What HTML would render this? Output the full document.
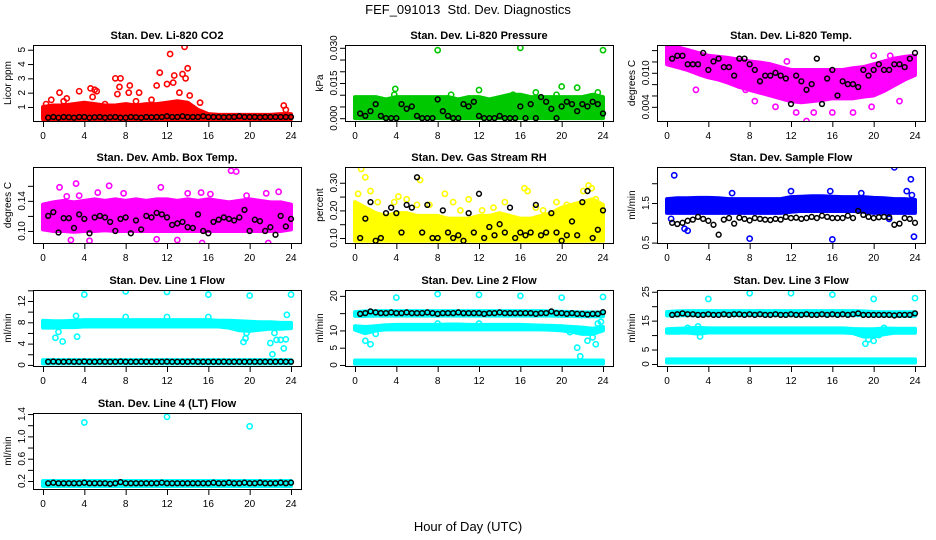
<!DOCTYPE html>
<html><head><meta charset="utf-8"><style>
body{margin:0;background:#fff}
svg{display:block;font-family:"Liberation Sans",sans-serif}
</style></head><body>
<svg id="c" width="936" height="540" viewBox="0 0 936 540">
<rect width="936" height="540" fill="#fff"/>
<text x="468" y="14" text-anchor="middle" font-size="13">FEF_091013&#160; Std. Dev. Diagnostics</text>
<text x="468" y="531" text-anchor="middle" font-size="13">Hour of Day (UTC)</text>
</svg>
<script>
const hours=[0,1,2,3,4,5,6,7,8,9,10,11,12,13,14,15,16,17,18,19,20,21,22,23,24];
const xTicks=[0,4,8,12,16,20,24];

const co2Lo=[0.15,0.15,0.15,0.15,0.15,0.15,0.15,0.15,0.15,0.15,0.15,0.15,0.15,0.15,0.15,0.15,0.15,0.15,0.15,0.15,0.15,0.15,0.15,0.15,0.15];
const co2Hi=[1.0,1.1,1.1,1.2,1.3,1.2,1.1,1.1,1.2,1.1,1.2,1.2,1.3,1.4,1.3,0.8,0.5,0.45,0.45,0.45,0.45,0.45,0.45,0.5,0.5];
const co2OutX=[0.3,0.8,1.6,2.3,3.5,4.6,5.0,5.2,7.0,7.5,7.2,7.4,8.4,9.3,11.0,11.3,12.3,12.0,12.7,12.6,13.5,13.7,13.8,14.0,15.2,23.3,23.5,10.5,9.0,6.0,13.2,14.2,8.3,4.8,2.0];
const co2OutY=[1.2,1.5,2.0,1.6,2.1,2.3,2.2,2.1,3.0,3.0,1.9,2.4,2.5,2.0,2.5,3.4,4.7,2.6,3.2,2.7,3.3,5.2,3.0,3.7,1.3,1.1,0.8,1.5,1.4,1.2,2.0,1.8,2.0,1.7,1.4];
const co2Black=[0.25,0.3,0.25,0.3,0.28,0.25,0.3,0.3,0.25,0.28,0.3,0.25,0.28,0.3,0.25,0.25,0.3,0.28,0.25,0.3,0.28,0.3,0.3,0.35,0.3,0.3,0.35,0.3,0.3,0.3,0.35,0.3,0.3,0.3,0.28,0.3,0.3,0.35,0.3,0.3,0.3,0.28,0.3,0.3,0.3,0.3,0.3,0.3];

const presLo=[0,0,0,0,0,0,0,0,0,0,0,0,0,0,0,0,0,0,0,0,0,0,0,0,0];
const presHi=[0.009,0.009,0.009,0.008,0.009,0.009,0.009,0.009,0.009,0.009,0.008,0.009,0.009,0.008,0.009,0.01,0.01,0.009,0.009,0.009,0.009,0.009,0.009,0.01,0.009];
const presOutX=[8,16,24,3.9,12,20,21.5,23.5,3.8,15.3,17.5,19.5,9.3];
const presOutY=[0.029,0.030,0.029,0.0125,0.012,0.0135,0.013,0.011,0.010,0.010,0.011,0.010,0.010];
const presBlack=[0.002,0.001,0.003,0.006,0.001,0,0,0,0.006,0.004,0.005,0.001,0,0,0,0.008,0.003,0.001,0,0,0.006,0.005,0.007,0.001,0,0,0,0.001,0,0,0,0.005,0,0.006,0,0.009,0.007,0.004,0,0.005,0.007,0.006,0.003,0.006,0.005,0.007,0.006,0.002];

const litLo=[0.0115,0.011,0.0105,0.0098,0.0092,0.0088,0.0082,0.0075,0.007,0.0065,0.006,0.0055,0.005,0.0048,0.005,0.0052,0.0055,0.0055,0.0055,0.0058,0.006,0.0068,0.0078,0.0088,0.0096];
const litHi=[0.015,0.0145,0.014,0.0135,0.013,0.0128,0.0126,0.0123,0.012,0.0118,0.0115,0.011,0.0105,0.0105,0.0105,0.0105,0.0105,0.0105,0.0108,0.011,0.0115,0.012,0.0125,0.0128,0.013];
const litOutX=[13.5,12.5,14.2,16,18,19.8,22.5,2.8,8.5,10.5,23.8,0.1,1.0,7.6,11.6,20.0,21.6];
const litOutY=[0.0015,0.003,0.003,0.003,0.003,0.004,0.005,0.007,0.005,0.004,0.0155,0.0155,0.0155,0.007,0.012,0.013,0.013];
const litBlack=[0.0125,0.013,0.013,0.0115,0.0115,0.0115,0.0135,0.0105,0.012,0.0125,0.011,0.011,0.0095,0.0125,0.0125,0.0115,0.0105,0.0085,0.0095,0.0095,0.010,0.0095,0.009,0.0045,0.0095,0.0085,0.007,0.008,0.0125,0.0045,0.009,0.0105,0.006,0.0085,0.008,0.008,0.0075,0.0105,0.0095,0.0105,0.0115,0.0105,0.0105,0.0115,0.0115,0.011,0.0125,0.0135];

const ambLo=[0.102,0.1,0.1,0.099,0.1,0.1,0.101,0.1,0.1,0.1,0.1,0.1,0.1,0.1,0.1,0.1,0.1,0.1,0.1,0.1,0.1,0.1,0.1,0.1,0.102];
const ambHi=[0.135,0.138,0.14,0.138,0.14,0.142,0.14,0.142,0.14,0.142,0.14,0.142,0.142,0.14,0.142,0.14,0.142,0.14,0.138,0.14,0.142,0.14,0.138,0.138,0.135];
const ambOutX=[1.6,3.2,6.4,18.2,18.7,11.4,5.3,15.3,22.8,2.7,4.5,11,13,15.4,21.8,0.3,9.1,21.6,7.8,2.3,14,19.7,3.5,16.2];
const ambOutY=[0.158,0.163,0.16,0.18,0.179,0.158,0.151,0.151,0.152,0.088,0.087,0.089,0.088,0.084,0.084,0.11,0.14,0.15,0.15,0.146,0.15,0.147,0.147,0.149];
const ambBlack=[0.12,0.125,0.098,0.117,0.117,0.104,0.122,0.116,0.097,0.118,0.12,0.118,0.112,0.1,0.116,0.118,0.097,0.114,0.102,0.12,0.118,0.124,0.122,0.118,0.108,0.11,0.112,0.105,0.104,0.122,0.1,0.097,0.112,0.115,0.118,0.116,0.114,0.118,0.128,0.1,0.115,0.113,0.1,0.105,0.095,0.12,0.106,0.116];

const rhLo=[0.09,0.09,0.09,0.09,0.09,0.09,0.09,0.09,0.09,0.09,0.09,0.09,0.09,0.09,0.09,0.09,0.09,0.09,0.09,0.09,0.09,0.09,0.09,0.09,0.09];
const rhHi=[0.23,0.21,0.19,0.18,0.19,0.19,0.18,0.18,0.18,0.17,0.17,0.17,0.18,0.18,0.19,0.18,0.17,0.17,0.18,0.19,0.21,0.22,0.23,0.24,0.22];
const rhOutX=[0.6,1.0,6.3,0.3,1.5,3.8,4.2,5.0,7.2,8.7,9.5,11.0,12.3,13.4,14.5,16.4,16.7,18.2,19.5,20.5,22.1,22.6,22.9,23.3,2.2,10.2,6.0,17.5];
const rhOutY=[0.35,0.32,0.31,0.26,0.27,0.23,0.25,0.24,0.22,0.26,0.23,0.24,0.2,0.21,0.23,0.28,0.27,0.2,0.23,0.22,0.27,0.29,0.28,0.24,0.23,0.2,0.22,0.21];
const rhBlack=[0.1,0.17,0.23,0.09,0.1,0.19,0.21,0.19,0.12,0.22,0.21,0.32,0.12,0.22,0.1,0.1,0.2,0.12,0.1,0.11,0.09,0.19,0.12,0.26,0.1,0.14,0.11,0.15,0.12,0.21,0.1,0.12,0.11,0.12,0.22,0.11,0.12,0.19,0.12,0.09,0.11,0.16,0.11,0.23,0.27,0.1,0.13,0.2];

const smpLo=[1.25,1.25,1.25,1.25,1.25,1.25,1.25,1.25,1.25,1.25,1.25,1.25,1.28,1.3,1.3,1.3,1.3,1.3,1.3,1.28,1.25,1.25,1.25,1.25,1.25];
const smpHi=[1.6,1.62,1.62,1.63,1.63,1.62,1.6,1.6,1.6,1.6,1.6,1.6,1.65,1.66,1.67,1.67,1.66,1.65,1.65,1.65,1.63,1.62,1.6,1.6,1.58];
const smpOutX=[0.7,22,23.6,23.2,23.7,8,16,23.9,1.7,2.0,0.4,6.3,12,15.8,18.8,21.5];
const smpOutY=[2.2,2.4,2.1,1.8,1.7,0.6,0.58,0.65,0.85,0.8,1.1,1.75,1.8,1.8,1.75,1.1];
const smpBlack=[1.0,0.97,1.0,1.05,1.08,1.15,1.1,1.05,0.95,0.7,1.08,1.12,0.98,1.13,1.1,1.06,1.12,1.1,1.08,1.07,1.1,1.08,1.15,1.12,1.13,1.1,1.12,1.15,1.12,1.18,1.15,1.12,1.12,1.12,1.18,1.12,1.3,1.2,1.15,1.12,1.14,1.15,1.14,0.95,0.98,1.12,1.1,1.0];

const l1UpLo=[7.0,7.0,7.1,7.1,7.2,7.2,7.2,7.2,7.2,7.2,7.2,7.2,7.2,7.2,7.2,7.2,7.2,7.2,7.0,6.5,6.4,6.6,6.8,6.8,6.9];
const l1UpHi=[8.3,8.2,8.2,8.3,8.4,8.4,8.4,8.4,8.4,8.4,8.4,8.4,8.4,8.4,8.4,8.4,8.4,8.3,8.3,8.2,8.1,8.0,8.0,7.9,7.9];
const l1LoLo=[0.3,0.3,0.3,0.3,0.3,0.3,0.3,0.3,0.3,0.3,0.3,0.3,0.3,0.3,0.3,0.3,0.3,0.3,0.3,0.3,0.3,0.3,0.3,0.3,0.3];
const l1LoHi=[0.9,0.9,0.9,0.9,0.9,0.9,0.9,0.9,0.9,0.9,0.9,0.9,0.9,0.9,0.9,0.9,0.9,0.9,0.9,0.9,0.9,0.9,0.9,0.9,0.9];
const l1OutX=[4,8,12,16,20,24,3.2,3.3,1.2,1.5,1.9,8,12,16,19.4,19.6,19.7,22,22.2,22.4,22.6,23,23.3,23.5,23.6];
const l1OutY=[13.2,13.8,13.7,13.2,13,13.2,9.2,5.3,5.1,6.2,4.4,9,9,9,4.3,5,6,4.1,2,6,4.7,4.7,3.1,4.8,9.4];
const l1Black=[0.6,0.65,0.6,0.6,0.62,0.6,0.6,0.65,0.6,0.6,0.62,0.6,0.6,0.6,0.65,0.6,0.6,0.6,0.62,0.6,0.6,0.6,0.6,0.62,0.6,0.6,0.6,0.6,0.65,0.6,0.6,0.6,0.6,0.6,0.62,0.6,0.6,0.6,0.6,0.6,0.6,0.6,0.6,0.6,0.6,0.62,0.6,0.6];

const l2TopLo=[14.2,14.2,14.3,14.3,14.3,14.3,14.3,14.3,14.3,14.3,14.3,14.3,14.3,14.3,14.3,14.3,14.3,14.3,14.3,14.3,14.2,14.2,14.1,14.1,14.1];
const l2TopHi=[15.3,15.5,15.6,15.6,15.6,15.6,15.6,15.6,15.6,15.6,15.6,15.6,15.6,15.6,15.6,15.6,15.6,15.6,15.6,15.5,15.4,15.3,15.2,15.2,15.2];
const l2MidLo=[10.2,9.2,10.0,10.3,10.3,10.3,10.3,10.3,10.3,10.3,10.3,10.3,10.3,10.3,10.3,10.3,10.3,10.3,10.3,10.2,10.0,9.6,9.0,9.0,10.0];
const l2MidHi=[11.2,11.0,11.2,11.5,11.6,11.6,11.6,11.6,11.6,11.7,11.7,11.6,11.6,11.6,11.6,11.6,11.6,11.5,11.4,11.3,11.2,11.0,10.8,10.5,11.0];
const l2BotLo=[0.4,0.4,0.4,0.4,0.4,0.4,0.4,0.4,0.4,0.4,0.4,0.4,0.4,0.4,0.4,0.4,0.4,0.4,0.4,0.4,0.4,0.4,0.4,0.4,0.4];
const l2BotHi=[1.3,1.3,1.3,1.3,1.3,1.3,1.3,1.3,1.3,1.3,1.3,1.3,1.3,1.3,1.3,1.3,1.3,1.3,1.3,1.3,1.3,1.3,1.3,1.3,1.3];
const l2OutX=[4,8,12,16,20,24,1,1.5,2,12,8,21.5,21.8,22.5,23,23.3,23.5,20.8,21.5,23.8];
const l2OutY=[19.5,20.5,20.3,20,19.5,19.7,7,6,9,12,12,5,2.5,7,8,6,12,9.5,10,12.5];
const l2Black=[14.8,15.0,15.5,15.2,15.0,15.0,15.2,15.0,15.0,15.2,15.0,15.0,15.0,15.2,15.0,14.8,15.0,15.0,15.0,15.2,15.0,15.0,15.0,15.0,14.8,15.0,15.0,15.2,15.0,15.0,15.0,15.0,15.0,15.0,14.8,15.0,15.0,15.5,15.0,15.0,14.8,15.0,14.8,14.8,14.6,14.8,14.8,15.3];

const l3TopLo=[16.8,16.8,16.9,16.9,16.9,16.9,16.9,16.9,16.9,16.9,16.9,16.9,16.9,16.9,16.9,16.9,16.9,16.9,16.9,16.9,16.8,16.8,16.7,16.7,16.7];
const l3TopHi=[18.0,18.2,18.3,18.3,18.3,18.3,18.3,18.3,18.3,18.3,18.3,18.3,18.3,18.3,18.3,18.3,18.3,18.3,18.3,18.2,18.0,17.9,17.9,17.9,17.9];
const l3MidLo=[10.8,10.8,10.9,10.5,10.9,10.9,10.9,10.9,10.9,10.9,10.9,10.9,10.9,10.9,10.9,10.9,10.9,10.9,10.7,9.5,9.5,10.3,10.8,10.8,10.8];
const l3MidHi=[12.0,12.2,12.3,12.5,12.3,12.3,12.3,12.3,12.3,12.3,12.3,12.3,12.3,12.3,12.3,12.3,12.3,12.3,12.1,12.0,12.0,12.3,12.2,12.2,12.2];
const l3BotLo=[0.5,0.5,0.5,0.5,0.5,0.5,0.5,0.5,0.5,0.5,0.5,0.5,0.5,0.5,0.5,0.5,0.5,0.5,0.5,0.5,0.5,0.5,0.5,0.5,0.5];
const l3BotHi=[1.6,1.6,1.6,1.6,1.6,1.6,1.6,1.6,1.6,1.6,1.6,1.6,1.6,1.6,1.6,1.6,1.6,1.6,1.6,1.6,1.6,1.6,1.6,1.6,1.6];
const l3OutX=[4,8,12,16,20,24,3,3.2,19.2,19.5,20,20.5,21,2];
const l3OutY=[22.5,24.5,24.5,24,22.5,22.8,13,9.5,7,8.5,8,10,12.5,12.5];
const l3Black=[17.0,17.2,17.5,17.2,17.2,17.0,17.0,17.2,17.0,17.0,17.2,17.0,17.2,17.2,17.0,17.2,17.0,17.2,17.0,17.0,17.2,17.0,17.0,17.2,17.0,17.0,17.2,17.0,17.0,17.2,17.0,17.2,17.0,17.2,17.0,17.2,17.5,17.0,17.0,17.0,17.0,17.0,17.0,16.8,17.0,17.0,17.0,17.5];

const l4Lo=[0.11,0.11,0.11,0.11,0.11,0.11,0.11,0.11,0.11,0.11,0.11,0.11,0.11,0.11,0.11,0.11,0.11,0.11,0.11,0.11,0.11,0.11,0.11,0.11,0.11];
const l4Hi=[0.2,0.2,0.2,0.2,0.2,0.2,0.2,0.2,0.2,0.2,0.2,0.2,0.2,0.2,0.2,0.2,0.2,0.2,0.2,0.2,0.2,0.2,0.2,0.2,0.2];
const l4OutX=[4,12,20];
const l4OutY=[1.25,1.35,1.18];
const l4Black=[0.16,0.17,0.16,0.16,0.16,0.16,0.16,0.17,0.16,0.16,0.16,0.16,0.15,0.16,0.18,0.16,0.16,0.16,0.16,0.16,0.16,0.16,0.17,0.16,0.16,0.16,0.16,0.16,0.16,0.16,0.16,0.16,0.17,0.16,0.16,0.17,0.16,0.16,0.17,0.16,0.16,0.17,0.16,0.16,0.16,0.17,0.16,0.17];

const NS="http://www.w3.org/2000/svg";
const svg=document.getElementById('c');
function mk(tag,attrs,parent){const e=document.createElementNS(NS,tag);for(const k in attrs)e.setAttribute(k,attrs[k]);(parent||svg).appendChild(e);return e;}

const panels=[
 {id:'co2',title:'Stan. Dev. Li-820 CO2',ylab:'Licor ppm',col:0,row:0,ymin:0.02,ymax:5.33,color:'#ff0000',bands:[[co2Lo,co2Hi]],ox:co2OutX,oy:co2OutY,black:co2Black,ticks:[1,2,3,4,5],labels:['1','2','3','4','5']},
 {id:'pressure',title:'Stan. Dev. Li-820 Pressure',ylab:'kPa',col:1,row:0,ymin:-0.0012,ymax:0.0312,color:'#00c800',bands:[[presLo,presHi]],ox:presOutX,oy:presOutY,black:presBlack,ticks:[0,0.005,0.01,0.015,0.02,0.025,0.03],labels:['0.000','','','0.015','','','0.030']},
 {id:'li820-temp',title:'Stan. Dev. Li-820 Temp.',ylab:'degrees C',col:2,row:0,ymin:0.0015,ymax:0.0149,color:'#ff00ff',bands:[[litLo,litHi]],ox:litOutX,oy:litOutY,black:litBlack,ticks:[0.004,0.006,0.008,0.01,0.012,0.014],labels:['0.004','','','0.010','','']},
 {id:'amb-box-temp',title:'Stan. Dev. Amb. Box Temp.',ylab:'degrees C',col:0,row:1,ymin:0.084,ymax:0.185,color:'#ff00ff',bands:[[ambLo,ambHi]],ox:ambOutX,oy:ambOutY,black:ambBlack,ticks:[0.10,0.12,0.14,0.16],labels:['0.10','','0.14','']},
 {id:'gas-rh',title:'Stan. Dev. Gas Stream RH',ylab:'percent',col:1,row:1,ymin:0.082,ymax:0.357,color:'#ffff00',bands:[[rhLo,rhHi]],ox:rhOutX,oy:rhOutY,black:rhBlack,ticks:[0.10,0.15,0.20,0.25,0.30],labels:['0.10','','0.20','','0.30']},
 {id:'sample-flow',title:'Stan. Dev. Sample Flow',ylab:'ml/min',col:2,row:1,ymin:0.49,ymax:2.41,color:'#0000ff',bands:[[smpLo,smpHi]],ox:smpOutX,oy:smpOutY,black:smpBlack,ticks:[0.5,1.0,1.5,2.0],labels:['0.5','','1.5','']},
 {id:'line1-flow',title:'Stan. Dev. Line 1 Flow',ylab:'ml/min',col:0,row:2,ymin:-0.2,ymax:14.06,color:'#00ffff',bands:[[l1UpLo,l1UpHi],[l1LoLo,l1LoHi]],ox:l1OutX,oy:l1OutY,black:l1Black,ticks:[0,2,4,6,8,10,12,14],labels:['0','','4','','8','','12','']},
 {id:'line2-flow',title:'Stan. Dev. Line 2 Flow',ylab:'ml/min',col:1,row:2,ymin:-0.3,ymax:21.7,color:'#00ffff',bands:[[l2TopLo,l2TopHi],[l2MidLo,l2MidHi],[l2BotLo,l2BotHi]],ox:l2OutX,oy:l2OutY,black:l2Black,ticks:[0,5,10,15,20],labels:['0','5','10','','20']},
 {id:'line3-flow',title:'Stan. Dev. Line 3 Flow',ylab:'ml/min',col:2,row:2,ymin:-0.7,ymax:25.6,color:'#00ffff',bands:[[l3TopLo,l3TopHi],[l3MidLo,l3MidHi],[l3BotLo,l3BotHi]],ox:l3OutX,oy:l3OutY,black:l3Black,ticks:[0,5,10,15,20,25],labels:['0','5','','15','','25']},
 {id:'line4-flow',title:'Stan. Dev. Line 4 (LT) Flow',ylab:'ml/min',col:0,row:3,ymin:0.057,ymax:1.419,color:'#00ffff',bands:[[l4Lo,l4Hi]],ox:l4OutX,oy:l4OutY,black:l4Black,ticks:[0.2,0.4,0.6,0.8,1.0,1.2,1.4],labels:['0.2','','0.6','','1.0','','1.4']}
];
const colLeft=[33,345,657], rowTop=[45,167,290,413], W=268, H=76;

panels.forEach(p=>{
  const L=colLeft[p.col], T=rowTop[p.row], B=T+H;
  const g=mk('g',{});
  
  
  const xs=v=>L+10+v*(W-20)/24;
  const ys=v=>B-(v-p.ymin)/(p.ymax-p.ymin)*H;
  const clip=mk('clipPath',{id:'cl-'+p.id},g);
  mk('rect',{x:L,y:T,width:W,height:H},clip);
  const plot=mk('g',{'clip-path':'url(#cl-'+p.id+')'},g);
  p.bands.forEach((b,bi)=>{
    let pts=hours.map((h,i)=>xs(h)+','+ys(b[1][i]));
    pts=pts.concat(hours.slice().reverse().map((h,j)=>{const i=hours.length-1-j;return xs(h)+','+ys(b[0][i]);}));
    const poly=mk('polygon',{points:pts.join(' '),fill:p.color,stroke:p.color,'stroke-width':4,'stroke-linejoin':'round'},plot);
    
    
  });
  p.ox.forEach((x,i)=>{
    const c=mk('circle',{cx:xs(x),cy:ys(p.oy[i]),r:2.6,fill:'none',stroke:p.color,'stroke-width':1.6},plot);
    
    
  });
  p.black.forEach((v,i)=>{
    const c=mk('circle',{cx:xs(0.5*(i+1)),cy:ys(v),r:2.4,fill:'none',stroke:'#000','stroke-width':1.5},plot);
    
    
  });
  const box=mk('rect',{x:L+0.5,y:T+0.5,width:W,height:H,fill:'none',stroke:'#000','stroke-width':1},g);
  
  
  const t=mk('text',{x:L+W/2,y:T-6,'text-anchor':'middle','font-size':11,'font-weight':'bold'},g);
  t.textContent=p.title;
  
  
  mk('line',{x1:xs(0),x2:xs(24),y1:B+0.5,y2:B+0.5,stroke:'#000'},g);
  xTicks.forEach(v=>{
    mk('line',{x1:xs(v)+0.5,x2:xs(v)+0.5,y1:B,y2:B+6,stroke:'#000'},g);
    const tl=mk('text',{x:xs(v),y:B+18,'text-anchor':'middle','font-size':10},g);
    tl.textContent=v;
    
    
  });
  mk('line',{x1:L+0.5,x2:L+0.5,y1:ys(p.ticks[0]),y2:ys(p.ticks[p.ticks.length-1]),stroke:'#000'},g);
  p.ticks.forEach((v,i)=>{
    const y=ys(v);
    mk('line',{x1:L-5,x2:L,y1:y+0.5,y2:y+0.5,stroke:'#000'},g);
    if(p.labels[i]){
      const tl=mk('text',{x:L-8,y:y,'text-anchor':'middle','font-size':10,transform:'rotate(-90 '+(L-8)+' '+y+')'},g);
      tl.textContent=p.labels[i];
      
      
    }
  });
  const yl=mk('text',{x:L-22,y:T+H/2,'text-anchor':'middle','font-size':10,transform:'rotate(-90 '+(L-22)+' '+(T+H/2)+')'},g);
  yl.textContent=p.ylab;
  
  
});
</script>
</body></html>
